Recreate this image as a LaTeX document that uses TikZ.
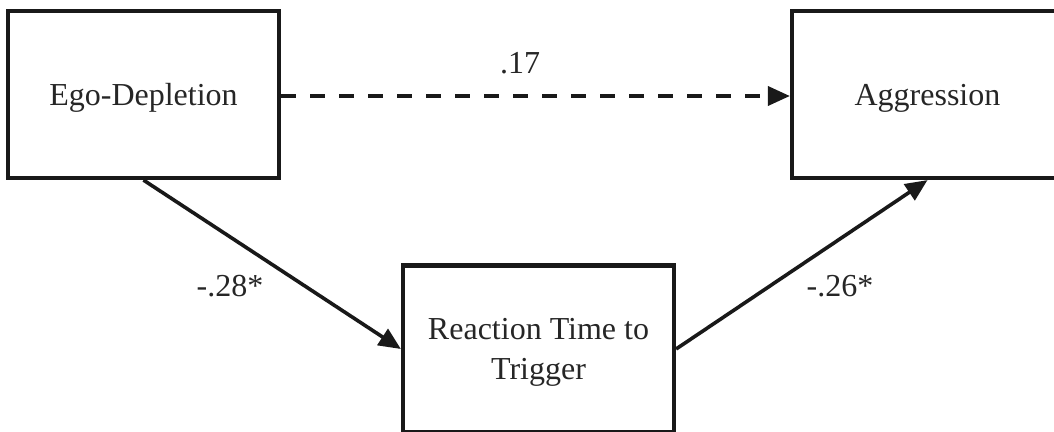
\documentclass[tikz,border=0pt]{standalone}
\usepackage{fontspec}
\setmainfont{Liberation Serif}
\usetikzlibrary{arrows.meta}
\begin{document}
\begin{tikzpicture}[x=1pt,y=-1pt,
  box/.style={draw=black!90, line width=4.2pt, minimum width=271pt, minimum height=167pt, inner sep=0pt, align=center, font=\fontsize{32}{40}\selectfont, text=black!85, text depth=0pt},
  conn/.style={draw=black!90, line width=3.6pt, -{Triangle[length=22pt,width=19pt]}},
  lab/.style={font=\fontsize{32}{40}\selectfont, text=black!85, inner sep=0pt}]
\useasboundingbox (0,0) rectangle (1054,431);
\clip (0,0) rectangle (1054,431);
\node[box] (ego) at (143.5,94.5) {Ego-Depletion};
\node[box] (agg) at (927.5,94.5) {Aggression};
\node[box] (rt) at (538.5,349) {Reaction Time to\\Trigger};
\draw[conn, dash pattern=on 15pt off 14pt] (ego.east |- 0,96) -- (agg.west |- 0,96);
\draw[conn] (ego.south) -- (rt.west);
\draw[conn] (rt.east) -- (agg.south);
\node[lab] (l17) at (520,63) {.17};
\node[lab] (l28) at (230,286) {-.28*};
\node[lab] (l26) at (840,286) {-.26*};
\end{tikzpicture}
\end{document}
